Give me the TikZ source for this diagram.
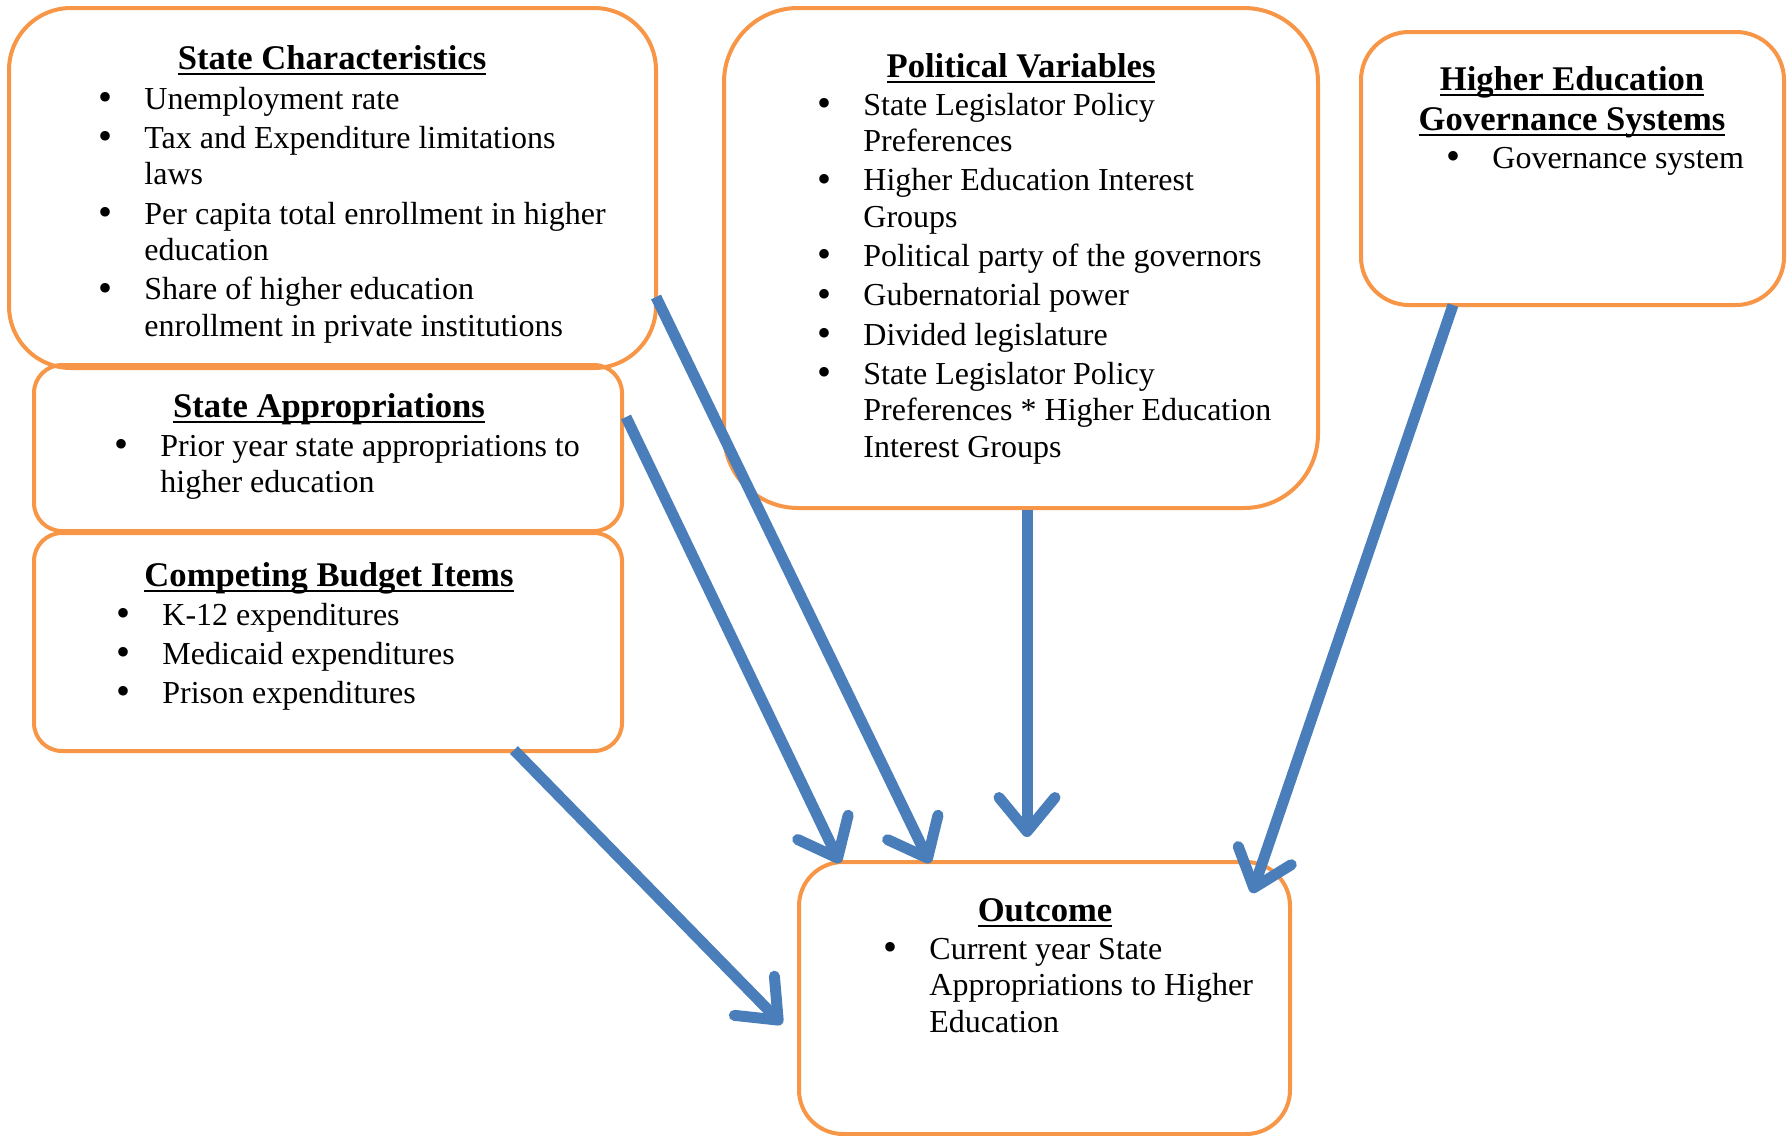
\documentclass[tikz,border=0pt]{standalone}
\usepackage{fontspec}
\setmainfont{Liberation Serif}
\usetikzlibrary{arrows.meta}
\definecolor{boxorange}{RGB}{247,150,70}
\definecolor{arrowblue}{RGB}{74,126,187}
\newcommand\itm{\makebox[23pt][l]{\raisebox{-0.6pt}[0pt][0pt]{\fontsize{20}{20}\selectfont\textbullet}}}
\newcommand\hul[1]{\setbox0\hbox{#1}\rlap{\copy0}\rule[-3.2pt]{\wd0}{1.2pt}}
\begin{document}
\begin{tikzpicture}[x=0.5pt,y=-0.5pt,
    facbox/.style={draw=boxorange,line width=2pt,inner sep=0pt},
    hdr/.style={font=\fontsize{17.3}{20}\selectfont\bfseries,anchor=base,inner sep=0pt},
    items/.style={font=\fontsize{16}{18.3}\selectfont,anchor=base west,inner sep=0pt},
    link/.style={draw=arrowblue,line width=5.5pt,-{Straight Barb[length=17pt,width=28pt,round]}}]
\useasboundingbox (0,0) rectangle (1790,1136);

\node[facbox,minimum width=323.5pt,minimum height=180pt,rounded corners=31pt] (sc) at (332.5,188) {};
\node[facbox,minimum width=294pt,minimum height=83pt,rounded corners=14pt] (sa) at (328,448) {};
\node[facbox,minimum width=294pt,minimum height=109pt,rounded corners=14pt] (cb) at (328,642) {};
\node[facbox,minimum width=297pt,minimum height=250pt,rounded corners=37pt] (pv) at (1021,258) {};
\node[facbox,minimum width=211.5pt,minimum height=136.5pt,rounded corners=24pt] (ge) at (1572.5,168.5) {};
\node[facbox,minimum width=245.5pt,minimum height=136pt,rounded corners=22pt] (oc) at (1044.5,998) {};

\node[hdr] (scT) at (332,69) {\hul{State Characteristics}};
\node[items] (scL) at (98,109) {\begin{tabular}[t]{@{}l@{}l@{}}
\itm & Unemployment rate\\[1.3pt]
\itm & Tax and Expenditure limitations\\
 & laws\\[1.3pt]
\itm & Per capita total enrollment in higher\\
 & education\\[1.3pt]
\itm & Share of higher education\\
 & enrollment in private institutions
\end{tabular}};

\node[hdr] (saT) at (329,417) {\hul{State Appropriations}};
\node[items] (saL) at (114,456) {\begin{tabular}[t]{@{}l@{}l@{}}
\itm & Prior year state appropriations to\\
 & higher education
\end{tabular}};

\node[hdr] (cbT) at (329,586) {\hul{Competing Budget Items}};
\node[items] (cbL) at (116,625) {\begin{tabular}[t]{@{}l@{}l@{}}
\itm & K-12 expenditures\\[1.3pt]
\itm & Medicaid expenditures\\[1.3pt]
\itm & Prison expenditures
\end{tabular}};

\node[hdr] (pvT) at (1021,77) {\hul{Political Variables}};
\node[items] (pvL) at (817,115) {\begin{tabular}[t]{@{}l@{}l@{}}
\itm & State Legislator Policy\\
 & Preferences\\[1.3pt]
\itm & Higher Education Interest\\
 & Groups\\[1.3pt]
\itm & Political party of the governors\\[1.3pt]
\itm & Gubernatorial power\\[1.3pt]
\itm & Divided legislature\\[1.3pt]
\itm & State Legislator Policy\\
 & Preferences * Higher Education\\
 & Interest Groups
\end{tabular}};

\node[hdr] (geT1) at (1572,90) {\hul{Higher Education}};
\node[hdr] (geT2) at (1572,130) {\hul{Governance Systems}};
\node[items] (geL) at (1446,168) {\begin{tabular}[t]{@{}l@{}l@{}}
\itm & Governance system
\end{tabular}};

\node[hdr] (ocT) at (1045,921) {\hul{Outcome}};
\node[items] (ocL) at (883,959) {\begin{tabular}[t]{@{}l@{}l@{}}
\itm & Current year State\\
 & Appropriations to Higher\\
 & Education
\end{tabular}};

\coordinate (scOut) at (656,297);
\coordinate (saOut) at (626,417);
\coordinate (pvOut) at (1027,510);
\coordinate (geOut) at (1453,305);
\coordinate (cbOut) at (514,750);
\coordinate (ocIn1) at (930,863);
\coordinate (ocIn2) at (840,863);
\coordinate (ocIn3) at (1027,837);
\coordinate (ocIn4) at (1252,893);
\coordinate (ocIn5) at (782,1024);

\draw[link] (scOut) -- (ocIn1);
\draw[link] (saOut) -- (ocIn2);
\draw[link] (pvOut) -- (ocIn3);
\draw[link] (geOut) -- (ocIn4);
\draw[link] (cbOut) -- (ocIn5);
\end{tikzpicture}
\end{document}
